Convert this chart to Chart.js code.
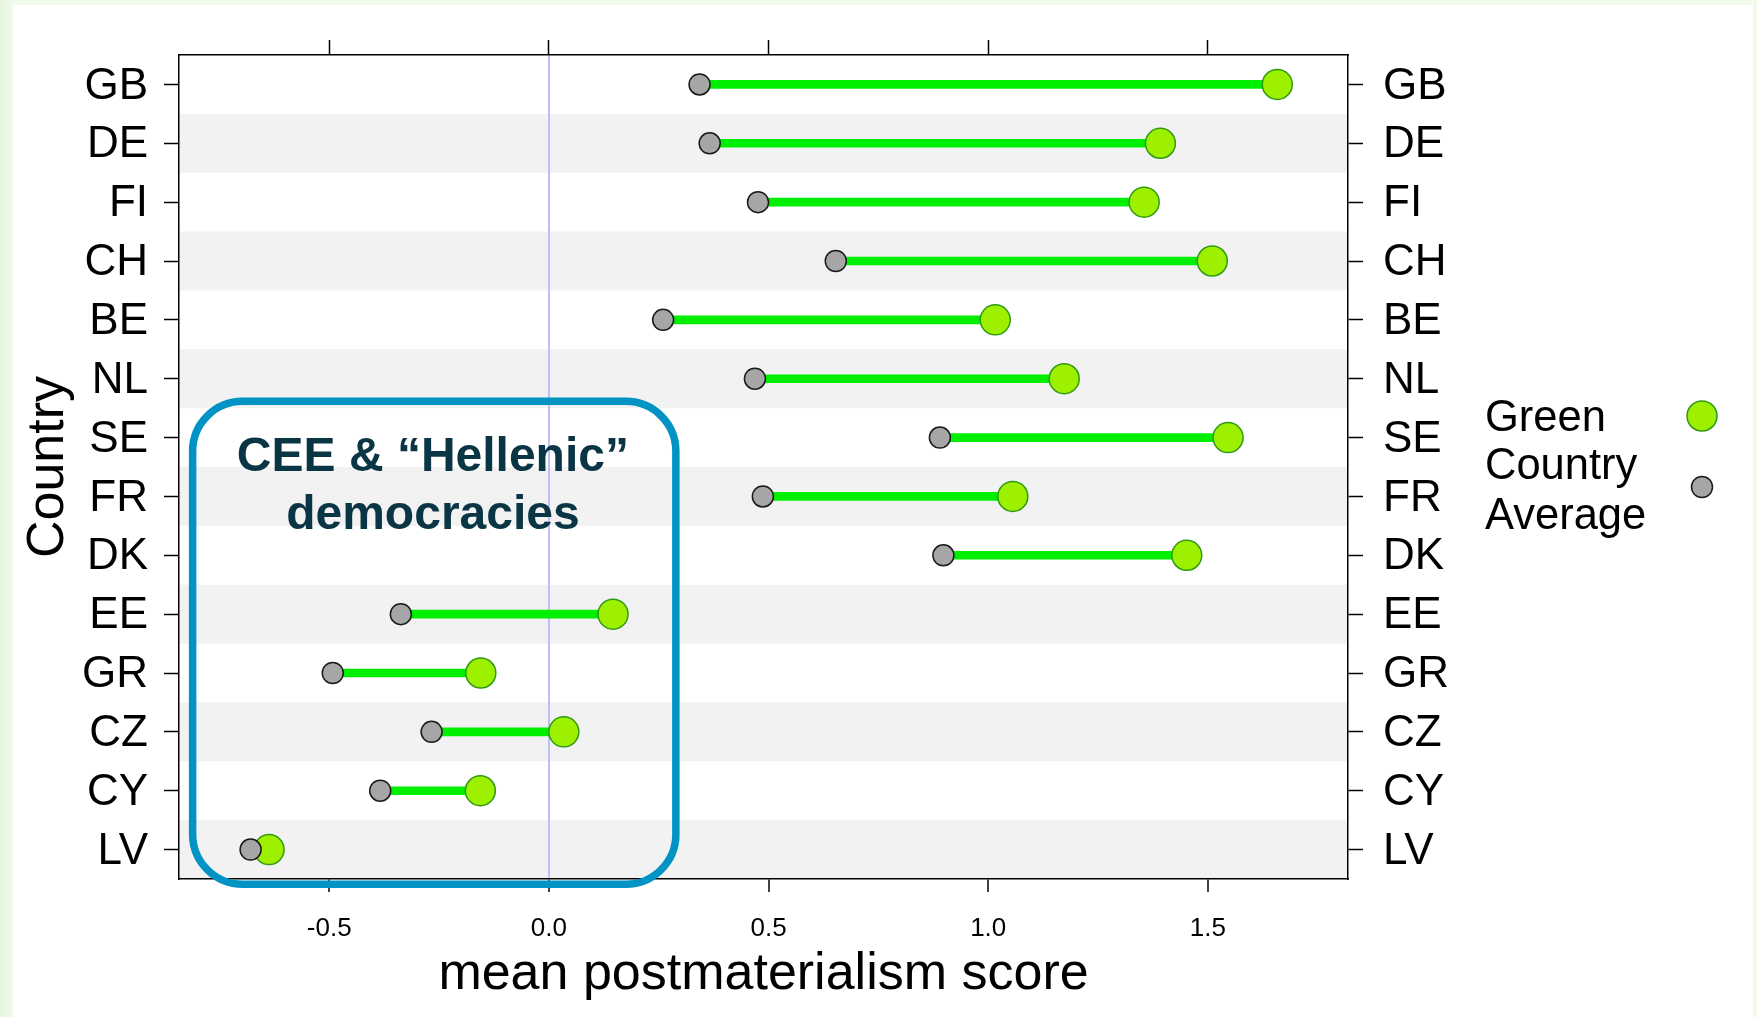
<!DOCTYPE html>
<html>
<head>
<meta charset="utf-8">
<script src="https://cdn.jsdelivr.net/npm/chart.js@4.4.1/dist/chart.umd.min.js"></script>
<style>
  html, body { margin: 0; padding: 0; }
  body { width: 1757px; height: 1017px; overflow: hidden; position: relative;
         background: linear-gradient(to right, #e6f4dc, #f2faec 13px, #f2faec); }
  #panel { position: absolute; left: 13px; top: 5px; right: 4px; bottom: 0; background: #fff; }
  #chart { position: absolute; left: 0; top: 0; }
</style>
</head>
<body>
<div id="panel"></div>
<canvas id="chart" width="1757" height="1017"></canvas>
<script>
const countries = ['GB', 'DE', 'FI', 'CH', 'BE', 'NL', 'SE', 'FR', 'DK', 'EE', 'GR', 'CZ', 'CY', 'LV'];
const greenScores = [1.658, 1.392, 1.355, 1.510, 1.016, 1.173, 1.546, 1.056, 1.452, 0.146, -0.155, 0.034, -0.156, -0.637];
const countryAverage = [0.343, 0.366, 0.476, 0.653, 0.260, 0.469, 0.890, 0.487, 0.898, -0.337, -0.492, -0.267, -0.384, -0.679];
const xTicks = [-0.5, 0, 0.5, 1, 1.5];
const xMin = -0.842;
const xMax = 1.819;

Chart.defaults.font.family = '"Liberation Sans", Arial, sans-serif';
Chart.defaults.color = '#000';

// alternating grey bands behind the rows
const stripes = {
    id: 'stripes',
    beforeDraw(chart) {
        const {ctx, chartArea} = chart;
        const y = chart.scales.y;
        const band = (chartArea.bottom - chartArea.top) / countries.length;
        ctx.save();
        ctx.fillStyle = '#f2f2f2';
        countries.forEach((c, i) => {
            if (i % 2 === 1) {
                const py = y.getPixelForValue(i);
                ctx.fillRect(chartArea.left, py - band / 2, chartArea.right - chartArea.left, band);
            }
        });
        ctx.restore();
    }
};

// rounded box marking the CEE group, plus the legend on the right
const extras = {
    id: 'extras',
    afterDraw(chart) {
        const {ctx, chartArea} = chart;
        const x = chart.scales.x;
        const y = chart.scales.y;
        const l = x.getPixelForValue(-0.811), r = x.getPixelForValue(0.289);
        const t = y.getPixelForValue(5.385), b = y.getPixelForValue(13.59);
        ctx.save();
        ctx.strokeStyle = '#0093c4';
        ctx.lineWidth = 7.5;
        ctx.beginPath();
        ctx.roundRect(l, t, r - l, b - t, 50);
        ctx.stroke();

        ctx.fillStyle = '#0a3545';
        ctx.font = 'bold 48px "Liberation Sans", Arial, sans-serif';
        ctx.textAlign = 'center';
        ctx.textBaseline = 'middle';
        const cx = x.getPixelForValue(-0.264);
        ctx.fillText('CEE & \u201cHellenic\u201d', cx, y.getPixelForValue(6.34));
        ctx.fillText('democracies', cx, y.getPixelForValue(7.33));

        // legend
        const lx = chartArea.right + 137;
        ctx.fillStyle = '#000';
        ctx.textAlign = 'left';
        ctx.font = '43.5px "Liberation Sans", Arial, sans-serif';
        ctx.fillText('Green', lx, 419);
        ctx.fillText('Country', lx, 467);
        ctx.fillText('Average', lx, 517);

        const mx = chartArea.right + 354;
        ctx.lineWidth = 1.5;
        ctx.beginPath();
        ctx.arc(mx, 416, 15, 0, Math.PI * 2);
        ctx.fillStyle = '#9cf000';
        ctx.strokeStyle = '#2f9a14';
        ctx.fill();
        ctx.stroke();
        ctx.beginPath();
        ctx.arc(mx, 487, 10.5, 0, Math.PI * 2);
        ctx.fillStyle = '#a6a6a6';
        ctx.strokeStyle = '#1a1a1a';
        ctx.fill();
        ctx.stroke();
        ctx.restore();
    }
};

const ctx = document.getElementById('chart').getContext('2d');

new Chart(ctx, {
    type: 'bar',
    data: {
        labels: countries,
        datasets: [{
            label: 'gap',
            data: countries.map((c, i) => [countryAverage[i], greenScores[i]]),
            backgroundColor: '#00ee00',
            borderWidth: 0,
            barThickness: 8,
            order: 3
        }, {
            type: 'scatter',
            label: 'Green',
            data: countries.map((c, i) => ({x: greenScores[i], y: c})),
            pointRadius: 15,
            pointBackgroundColor: '#9cf000',
            pointBorderColor: '#2f9a14',
            pointBorderWidth: 1.5,
            order: 2
        }, {
            type: 'scatter',
            label: 'Country Average',
            data: countries.map((c, i) => ({x: countryAverage[i], y: c})),
            pointRadius: 10.5,
            pointBackgroundColor: '#a6a6a6',
            pointBorderColor: '#1a1a1a',
            pointBorderWidth: 1.5,
            order: 1
        }]
    },
    options: {
        indexAxis: 'y',
        responsive: false,
        animation: false,
        events: [],
        layout: { padding: 0 },
        plugins: {
            legend: { display: false },
            tooltip: { enabled: false }
        },
        scales: {
            x: {
                type: 'linear',
                position: 'bottom',
                min: xMin,
                max: xMax,
                afterBuildTicks: s => { s.ticks = xTicks.map(v => ({value: v})); },
                afterFit: s => { s.height = 138; },
                grid: {
                    color: c => (c.tick && c.tick.value === 0) ? '#bfbff8' : 'rgba(0,0,0,0)',
                    lineWidth: 2,
                    tickColor: '#000',
                    tickWidth: 1.5,
                    tickLength: 13
                },
                border: { color: '#000', width: 1.5 },
                ticks: { font: { size: 26 }, padding: 21, callback: v => v.toFixed(1) },
                title: {
                    display: true,
                    text: 'mean postmaterialism score',
                    font: { size: 52 },
                    padding: { top: 0, bottom: 11 }
                }
            },
            x2: {
                type: 'linear',
                position: 'top',
                min: xMin,
                max: xMax,
                afterBuildTicks: s => { s.ticks = xTicks.map(v => ({value: v})); },
                afterFit: s => { s.height = 55; },
                grid: { drawOnChartArea: false, tickColor: '#000', tickWidth: 1.5, tickLength: 15 },
                border: { color: '#000', width: 1.5 },
                ticks: { display: false }
            },
            y: {
                type: 'category',
                position: 'left',
                offset: true,
                afterFit: s => { s.width = 179; },
                grid: { offset: false, drawOnChartArea: false, tickColor: '#000', tickWidth: 1.5, tickLength: 15 },
                border: { color: '#000', width: 1.5 },
                ticks: { font: { size: 44 }, padding: 16, labelOffset: 2 },
                title: {
                    display: true,
                    text: 'Country',
                    font: { size: 52 },
                    padding: { top: 17 }
                }
            },
            y2: {
                type: 'category',
                position: 'right',
                labels: countries,
                offset: true,
                afterFit: s => { s.width = 409; },
                grid: { offset: false, drawOnChartArea: false, tickColor: '#000', tickWidth: 1.5, tickLength: 15 },
                border: { color: '#000', width: 1.5 },
                ticks: { font: { size: 44 }, padding: 20, labelOffset: 2 }
            }
        }
    },
    plugins: [stripes, extras]
});
</script>
</body>
</html>
